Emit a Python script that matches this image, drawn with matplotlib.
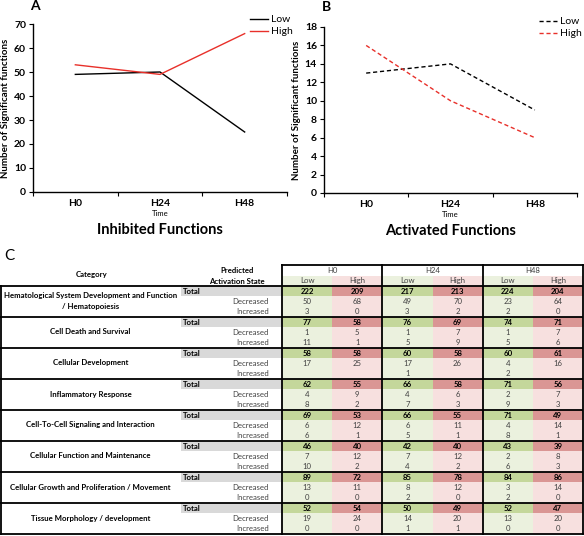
import matplotlib
matplotlib.use("Agg")
import matplotlib.pyplot as plt
from matplotlib.patches import Rectangle

# ---------------- data ----------------
times = ["H0", "H24", "H48"]
inhib_low = [49, 50, 25]
inhib_high = [53, 49, 66]
act_low = [13, 14, 9]
act_high = [16, 10, 6]

categories = [
    "Hematological System Development and Function\n/ Hematopoiesis",
    "Cell Death and Survival",
    "Cellular Development",
    "Inflammatory Response",
    "Cell-To-Cell Signaling and Interaction",
    "Cellular Function and Maintenance",
    "Cellular Growth and Proliferation / Movement",
    "Tissue Morphology / development",
]
col_groups = ["H0", "H24", "H48"]
col_sub = ["Low", "High"]
total = [
    [222, 209, 217, 213, 224, 204],
    [77, 58, 76, 69, 74, 71],
    [58, 58, 60, 58, 60, 61],
    [62, 55, 66, 58, 71, 56],
    [69, 53, 66, 55, 71, 49],
    [46, 40, 42, 40, 43, 39],
    [89, 72, 85, 78, 84, 86],
    [52, 54, 50, 49, 52, 47],
]
decreased = [
    [50, 68, 49, 70, 23, 64],
    [1, 5, 1, 7, 1, 7],
    [17, 25, 17, 26, 4, 16],
    [4, 9, 4, 6, 2, 7],
    [6, 12, 6, 11, 4, 14],
    [7, 12, 7, 12, 2, 8],
    [13, 11, 8, 12, 3, 14],
    [19, 24, 14, 20, 13, 20],
]
increased = [
    [3, 0, 3, 2, 2, 0],
    [11, 1, 5, 9, 5, 6],
    [None, None, 1, None, 2, None],
    [8, 2, 7, 3, 9, 3],
    [6, 1, 5, 1, 8, 1],
    [10, 2, 4, 2, 6, 3],
    [0, 0, 2, 0, 2, 0],
    [0, 0, 1, 1, 0, 0],
]

W, H = 584, 536
fig = plt.figure(figsize=(W / 100, H / 100), dpi=100)
FONT = "Lato"
TFONT = "Lato"


def px_axes(l, t, r, b):
    return fig.add_axes([l / W, 1 - b / H, (r - l) / W, (b - t) / H])


def style_line_ax(ax, ymax, ystep, title):
    for s in ("top", "right"):
        ax.spines[s].set_visible(False)
    ax.set_xlim(-0.5, 2.5)
    ax.set_ylim(0, ymax)
    ax.set_yticks(range(0, ymax + 1, ystep))
    ax.set_xticks([-0.5, 0.5, 1.5, 2.5])
    ax.set_xticklabels([])
    ax.set_xticks(range(len(times)), minor=True)
    ax.set_xticklabels(times, minor=True, fontsize=7.5, fontweight="bold", family=FONT)
    ax.tick_params(axis="x", which="minor", length=0, pad=5)
    ax.tick_params(axis="x", which="major", length=3, direction="out")
    ax.tick_params(axis="y", length=3, labelsize=7.5, pad=2)
    for lab in ax.get_yticklabels():
        lab.set_fontweight("bold")
        lab.set_family(FONT)
    ax.set_ylabel("Number of Significant functions", fontsize=7, fontweight="bold",
                  family=FONT, labelpad=3)
    ax.text(0.5, -0.128, "Time", transform=ax.transAxes, ha="center", va="center",
            fontsize=5.5, family=FONT)
    ax.text(0.5, -0.228, title, transform=ax.transAxes, ha="center", va="center",
            fontsize=10.5, fontweight="bold", family=FONT)
    for s in ("left", "bottom"):
        ax.spines[s].set_linewidth(1.0)


def add_legend(ax, x_px, y_px):
    ax.legend(loc="upper left", bbox_to_anchor=(x_px / W, 1 - y_px / H), bbox_transform=fig.transFigure,
              frameon=False, handlelength=1.7, handletextpad=0.3, borderpad=0,
              labelspacing=0.25, borderaxespad=0, prop={"family": FONT, "size": 7.5})


# ---------------- panel A ----------------
axA = px_axes(33, 24, 287, 192)
axA.plot(range(3), inhib_low, color="black", lw=1.0, label="Low")
axA.plot(range(3), inhib_high, color="#e8302a", lw=1.0, label="High")
style_line_ax(axA, 70, 10, "Inhibited Functions")
add_legend(axA, 250, 15)

# ---------------- panel B ----------------
axB = px_axes(324, 27, 577, 193)
axB.plot(range(3), act_low, color="black", lw=1.0, ls=(0, (3, 2)), label="Low")
axB.plot(range(3), act_high, color="#e8302a", lw=1.0, ls=(0, (3, 2)), label="High")
style_line_ax(axB, 18, 2, "Activated Functions")
add_legend(axB, 539, 17)

fig.text(30 / W, 1 - 6 / H, "A", fontsize=10, fontweight="bold", family=FONT, va="center")
fig.text(322 / W, 1 - 7 / H, "B", fontsize=10, fontweight="bold", family=FONT, va="center")

# ---------------- panel C (table) ----------------
ax = fig.add_axes([0, 0, 1, 1])
ax.set_xlim(0, W)
ax.set_ylim(H, 0)
ax.axis("off")

ax.text(4, 256, "C", fontsize=11, family=TFONT, va="center", ha="left")

x_cat_r = 181
x_tot_r = 280
x_data_l = 282
x_data_r = 583
ncol = 6
cw = (x_data_r - x_data_l) / ncol
y_hdr = 265
rh_hdr = 10.5
y0 = 286
block_h = 31
rh = block_h / 3

LGREEN = "#ebf1de"
LPINK = "#f7e0df"
DGREEN = "#c4d79b"
DRED = "#da9694"
GRAY = "#d9d9d9"
TXT = "#404040"
fs = 5.6

# header
ax.text(92, 275, "Category", ha="center", va="center", fontsize=fs, fontweight="bold", family=TFONT)
ax.text(237, 270.5, "Predicted", ha="center", va="center", fontsize=fs, fontweight="bold", family=TFONT)
ax.text(237, 281, "Activation State", ha="center", va="center", fontsize=fs, fontweight="bold", family=TFONT)
for g, name in enumerate(col_groups):
    xl = x_data_l + 2 * g * cw
    ax.text(xl + cw, y_hdr + rh_hdr / 2, name, ha="center", va="center", fontsize=fs,
            family=TFONT, color=TXT)
    for s, sub in enumerate(col_sub):
        xs = xl + s * cw
        ax.add_patch(Rectangle((xs, y_hdr + rh_hdr), cw, rh_hdr, color=LGREEN if s == 0 else LPINK, lw=0))
        ax.text(xs + cw / 2, y_hdr + 1.5 * rh_hdr, sub, ha="center", va="center", fontsize=fs,
                family=TFONT, color=TXT)

for i, cat in enumerate(categories):
    yb = y0 + i * block_h
    ax.text(x_cat_r / 2, yb + block_h / 2 - 0.5, cat, ha="center", va="center", fontsize=fs,
            fontweight="bold", family=TFONT, linespacing=1.55)
    ax.add_patch(Rectangle((x_cat_r, yb), x_tot_r - x_cat_r + 2, rh, color=GRAY, lw=0))
    ax.text(x_cat_r + 2, yb + rh / 2, "Total", ha="left", va="center", fontsize=fs,
            fontweight="bold", family=TFONT)
    ax.text(269, yb + 1.5 * rh, "Decreased", ha="right", va="center", fontsize=fs, family=TFONT, color=TXT)
    ax.text(269, yb + 2.5 * rh, "Increased", ha="right", va="center", fontsize=fs, family=TFONT, color=TXT)
    rows = [total[i], decreased[i], increased[i]]
    for r, vals in enumerate(rows):
        for c in range(ncol):
            xs = x_data_l + c * cw
            if r == 0:
                fc = DGREEN if c % 2 == 0 else DRED
            else:
                fc = LGREEN if c % 2 == 0 else LPINK
            ax.add_patch(Rectangle((xs, yb + r * rh), cw, rh, color=fc, lw=0))
            v = vals[c]
            if v is not None:
                ax.text(xs + cw / 2, yb + (r + 0.5) * rh, str(v), ha="center", va="center",
                        fontsize=fs, family=TFONT, fontweight="bold" if r == 0 else "normal",
                        color="black" if r == 0 else TXT)
    ax.plot([0, x_data_r], [yb, yb], color="black", lw=1.3, solid_capstyle="butt")

y_end = y0 + len(categories) * block_h
ax.plot([0, x_data_r], [y_end, y_end], color="black", lw=1.3)
ax.plot([0.7, 0.7], [y0, y_end], color="black", lw=1.3)
ax.plot([x_data_l, x_data_r], [y_hdr, y_hdr], color="black", lw=1.3)
for g in range(4):
    xv = x_data_l + 2 * g * cw
    ax.plot([xv, xv], [y_hdr, y_end], color="black", lw=1.3)

fig.savefig("out.png", dpi=100)
